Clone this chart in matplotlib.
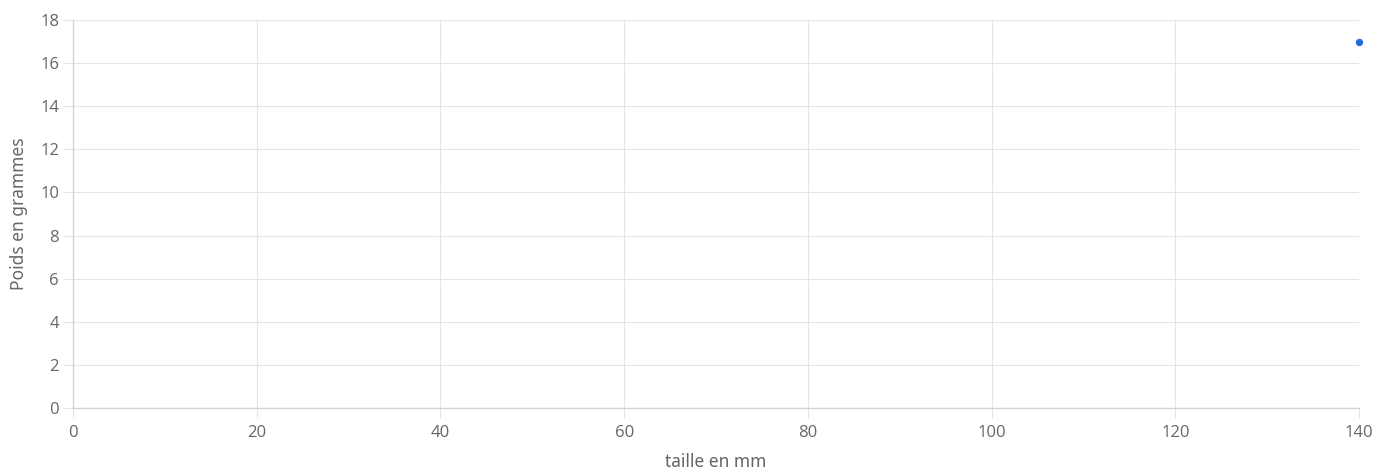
import matplotlib
matplotlib.use("Agg")
import matplotlib.pyplot as plt

# données
taille_mm = [140]
poids_g = [17]
x_ticks = [0, 20, 40, 60, 80, 100, 120, 140]
y_ticks = [0, 2, 4, 6, 8, 10, 12, 14, 16, 18]

grid_col = "#e5e5e5"
text_col = "#666666"

fig = plt.figure(figsize=(13.93, 4.75), dpi=100)
ax = fig.add_axes([73 / 1393, 67 / 475, (1359 - 73) / 1393, (408 - 20) / 475])

ax.scatter(taille_mm, poids_g, s=28, color="#1f6fd6", zorder=3, clip_on=False,
           linewidths=0)

ax.set_xlim(0, 140)
ax.set_ylim(0, 18)
ax.set_xticks(x_ticks)
ax.set_yticks(y_ticks)
ax.grid(True, color=grid_col, linewidth=0.8)
ax.set_axisbelow(True)

for side in ["top", "right"]:
    ax.spines[side].set_visible(False)
for side in ["left", "bottom"]:
    ax.spines[side].set_color("#d5d5d5")
    ax.spines[side].set_linewidth(1)

ax.tick_params(axis="both", length=7, width=0.8, color=grid_col,
               labelcolor=text_col, labelsize=12)
ax.tick_params(axis="x", pad=5)
ax.tick_params(axis="y", pad=3)
for lab in ax.get_xticklabels() + ax.get_yticklabels():
    lab.set_family("Open Sans")

ax.set_xlabel("taille en mm", color=text_col, fontsize=12.5, family="Noto Sans", labelpad=9)
ax.set_ylabel("Poids en grammes", color=text_col, fontsize=12.5, family="Noto Sans", labelpad=9)

fig.savefig("out.png", dpi=100)
